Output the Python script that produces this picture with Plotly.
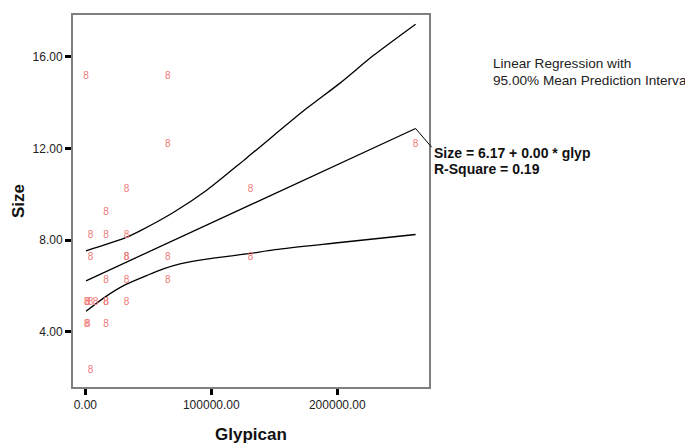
import plotly.graph_objects as go

# ---- data ----
glypican = [512, 65536, 65536, 32768, 131072, 16384, 4096, 16384, 32768,
            4096, 32768, 32768, 65536, 131072, 16384, 32768, 65536,
            1024, 2048, 4096, 8192, 16384, 16384, 32768,
            1024, 2048, 16384, 4096, 262144]
size = [15.13, 15.13, 12.17, 10.22, 10.22, 9.23, 8.22, 8.22, 8.22,
        7.25, 7.25, 7.25, 7.25, 7.25, 6.26, 6.26, 6.26,
        5.30, 5.30, 5.30, 5.30, 5.30, 5.30, 5.30,
        4.32, 4.32, 4.32, 2.31, 12.17]

fit_x = [556, 262144]
fit_y = [6.23, 12.87]

upper_x = [556, 31508, 43413, 69841, 96349, 128095, 175714, 202143, 228571, 262144]
upper_y = [7.54, 8.10, 8.41, 9.21, 10.18, 11.59, 13.75, 14.85, 16.05, 17.42]

lower_x = [556, 15635, 31508, 48730, 61905, 75159, 96349, 128095, 150556, 202143, 262144]
lower_y = [4.90, 5.52, 6.05, 6.46, 6.75, 6.97, 7.18, 7.40, 7.59, 7.90, 8.25]

x_ticks = [0, 100000, 200000]
x_tick_labels = ["0.00", "100000.00", "200000.00"]
y_ticks = [4, 8, 12, 16]
y_tick_labels = ["4.00", "8.00", "12.00", "16.00"]

x_range = [-9760, 272780]
y_range = [1.60, 17.82]

FONT = "Arial, Liberation Sans, sans-serif"

fig = go.Figure()
fig.add_trace(go.Scatter(x=upper_x, y=upper_y, mode="lines",
                         line=dict(color="black", width=1.3, shape="spline", smoothing=0.8),
                         showlegend=False))
fig.add_trace(go.Scatter(x=fit_x, y=fit_y, mode="lines",
                         line=dict(color="black", width=1.3), showlegend=False))
fig.add_trace(go.Scatter(x=lower_x, y=lower_y, mode="lines",
                         line=dict(color="black", width=1.3, shape="spline", smoothing=0.8),
                         showlegend=False))
fig.add_trace(go.Scatter(x=glypican, y=size, mode="text", text=["8"] * len(size),
                         textfont=dict(family=FONT, size=10, color="#f07a7a"),
                         showlegend=False))

axis_common = dict(showgrid=False, zeroline=False, showline=True, mirror=True,
                   linecolor="#7f7f7f", linewidth=2, ticks="outside",
                   ticklen=6, tickwidth=3, tickcolor="black",
                   tickfont=dict(family=FONT, size=12, color="#222222"))

fig.update_xaxes(range=x_range, tickvals=x_ticks, ticktext=x_tick_labels, **axis_common)
fig.update_yaxes(range=y_range, tickvals=y_ticks, ticktext=y_tick_labels, **axis_common)

# leader line from the end of fitted line to the equation label
xp0 = (fit_x[-1] - x_range[0]) / (x_range[1] - x_range[0])
yp0 = (fit_y[-1] - y_range[0]) / (y_range[1] - y_range[0])
fig.add_shape(type="line", xref="paper", yref="paper", x0=xp0, y0=yp0,
              x1=1.0076, y1=0.6444, line=dict(color="black", width=1))

annots = [
    dict(text="<b>Glypican</b>", x=0.5, y=-0.128, xanchor="center", yanchor="middle",
         font=dict(family=FONT, size=17, color="#111111")),
    dict(text="<b>Size</b>", x=-0.1545, y=0.5, xanchor="center", yanchor="middle",
         textangle=-90, font=dict(family=FONT, size=17, color="#111111")),
    dict(text="Linear Regression with", x=1.1745, y=0.869, xanchor="left", yanchor="middle",
         font=dict(family=FONT, size=13.6, color="#222222")),
    dict(text="95.00% Mean Prediction Interval", x=1.1745, y=0.8235, xanchor="left",
         yanchor="middle", font=dict(family=FONT, size=13.6, color="#222222")),
    dict(text="<b>Size = 6.17 + 0.00 * glyp</b>", x=1.0076, y=0.6283, xanchor="left",
         yanchor="middle", font=dict(family=FONT, size=14, color="#111111")),
    dict(text="<b>R-Square = 0.19</b>", x=1.0076, y=0.5856, xanchor="left",
         yanchor="middle", font=dict(family=FONT, size=14, color="#111111")),
]
for a in annots:
    fig.add_annotation(xref="paper", yref="paper", showarrow=False, **a)

# page body has an 8px margin, so the figure is offset by 8px
fig.update_layout(width=685, height=436, margin=dict(l=65, r=264, t=5, b=57),
                  paper_bgcolor="white", plot_bgcolor="white")

fig.write_html("out.html")
